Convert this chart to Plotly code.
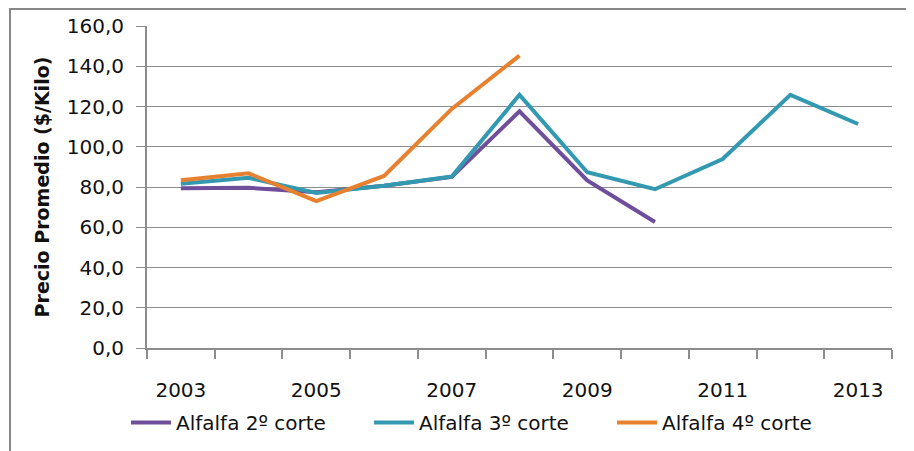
import plotly.graph_objects as go

years = list(range(2003, 2014))
corte2 = [79.4, 79.6, 77.4, 80.6, 85.0, 117.6, 83.3, 62.6, None, None, None]
corte3 = [81.6, 84.6, 77.0, 80.6, 85.2, 125.8, 87.3, 78.9, 93.9, 125.8, 111.3]
corte4 = [83.3, 86.8, 73.0, 85.5, 118.8, 145.3, None, None, None, None, None]
names = ["Alfalfa 2º corte", "Alfalfa 3º corte", "Alfalfa 4º corte"]
colors = ["#6F4E9B", "#3399B1", "#E8812F"]
label_years = [2003, 2005, 2007, 2009, 2011, 2013]
yticks = [0, 20, 40, 60, 80, 100, 120, 140, 160]

FONT = "DejaVu Sans"
fig = go.Figure()
for vals, nm, col in zip([corte2, corte3, corte4], names, colors):
    fig.add_trace(go.Scatter(x=years, y=vals, name=nm, mode="lines",
                             line=dict(color=col, width=4), connectgaps=False))

OFF = 8  # page body margin
W, H = 914 - OFF, 451 - OFF
# target page coordinates of the plot area: x 147..892, y 26..348
L, R, T = 147 - OFF, 914 - 892, 26 - OFF
B = H - (348 - OFF)
pw, ph = W - L - R, H - T - B
bottom = T + ph  # figure y of plot bottom

fig.update_layout(
    width=W, height=H,
    margin=dict(l=L, r=R, t=T, b=B, autoexpand=False),
    paper_bgcolor="white", plot_bgcolor="white",
    font=dict(family=FONT, size=20, color="#111"),
    showlegend=True,
    legend=dict(orientation="h", x=(126 - OFF - L) / pw, xanchor="left",
                y=-(403 - OFF - bottom) / ph, yanchor="top",
                entrywidth=188, entrywidthmode="pixels",
                font=dict(family=FONT, size=20, color="#111"),
                bgcolor="rgba(0,0,0,0)", itemwidth=40),
    xaxis=dict(range=[2002.5, 2013.5], tickvals=label_years,
               ticktext=[str(y) for y in label_years],
               ticks="", ticklabelstandoff=23, showgrid=False,
               showline=True, linecolor="#8C8C8C", linewidth=2,
               tickfont=dict(family=FONT, size=20, color="#111"),
               minor=dict(tickvals=[y + 0.5 for y in range(2002, 2014)],
                          ticks="outside", ticklen=9, tickcolor="#8C8C8C",
                          tickwidth=2, showgrid=False),
               zeroline=False),
    yaxis=dict(range=[0, 160], tickvals=yticks,
               ticktext=[f"{v},0" for v in yticks],
               ticks="outside", ticklen=9, tickcolor="#8C8C8C", tickwidth=1,
               showgrid=True, gridcolor="#8C8C8C", gridwidth=1,
               showline=True, linecolor="#8C8C8C", linewidth=2,
               zeroline=False, ticklabelstandoff=8,
               tickfont=dict(family=FONT, size=20, color="#111"),
               title=dict(text="<b>Precio Promedio ($/Kilo)</b>",
                          font=dict(family=FONT, size=19, color="#111"),
                          standoff=12)),
    shapes=[dict(type="rect", xref="paper", yref="paper",
                 x0=(10 - OFF - L) / pw, x1=(W + 5 - L) / pw,
                 y0=-(H + 5 - bottom) / ph, y1=(bottom - 1) / ph,
                 line=dict(color="#888", width=2), layer="below")],
)

fig.write_html("out.html")
